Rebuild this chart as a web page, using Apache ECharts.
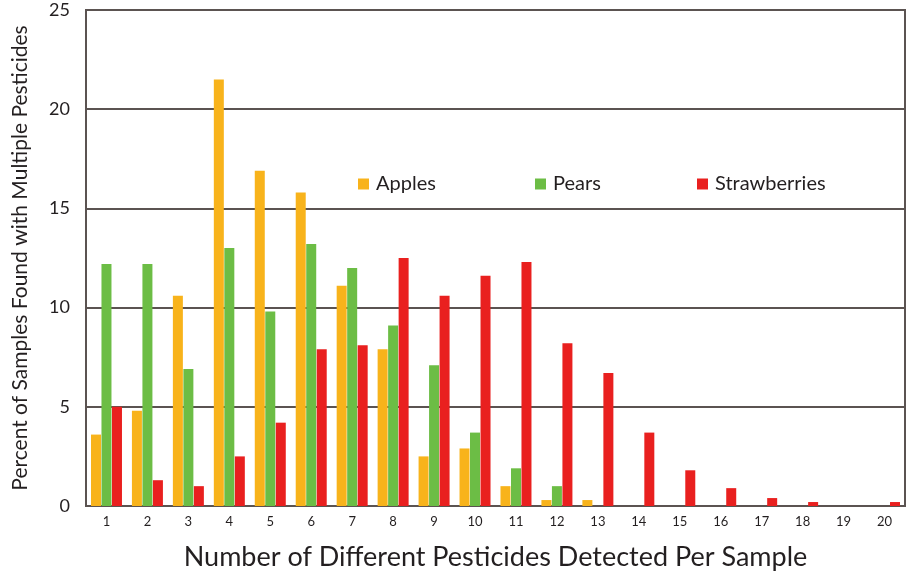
<!DOCTYPE html>
<html>
<head>
<meta charset="utf-8">
<script src="https://cdn.jsdelivr.net/npm/echarts@6/dist/echarts.min.js"></script>
<style>
  html, body { margin: 0; padding: 0; background: #fff; }
  #chart { width: 910px; height: 574px; }
</style>
</head>
<body>
<div id="chart"></div>
<script>
// 每个样本检出的农药种类数
var categories = ['1', '2', '3', '4', '5', '6', '7', '8', '9', '10',
                  '11', '12', '13', '14', '15', '16', '17', '18', '19', '20'];
var apples = [3.6, 4.8, 10.6, 21.5, 16.9, 15.8, 11.1, 7.9, 2.5, 2.9,
              1.0, 0.3, 0.3, 0, 0, 0, 0, 0, 0, 0];
var pears = [12.2, 12.2, 6.9, 13.0, 9.8, 13.2, 12.0, 9.1, 7.1, 3.7,
             1.9, 1.0, 0, 0, 0, 0, 0, 0, 0, 0];
var strawberries = [5.0, 1.3, 1.0, 2.5, 4.2, 7.9, 8.1, 12.5, 10.6, 11.6,
                    12.3, 8.2, 6.7, 3.7, 1.8, 0.9, 0.4, 0.2, 0, 0.2];
var yTicks = [0, 5, 10, 15, 20, 25];

var lineColor = '#5b5351';
var labelFont = 'Lato, "Open Sans", sans-serif';

var myChart = echarts.init(document.getElementById('chart'));

function legendAt(name, left) {
    return {
        data: [name],
        left: left,
        top: 169,
        itemWidth: 11,
        itemHeight: 11,
        itemGap: 10,
        icon: 'rect',
        textStyle: {
            fontFamily: labelFont,
            fontSize: 20,
            color: '#231f20',
            padding: [0, 0, 0, 2]
        }
    };
}

function barSeries(name, color, data) {
    return {
        name: name,
        type: 'bar',
        barWidth: 10,
        barGap: '5%',
        itemStyle: { color: color },
        data: data
    };
}

var option = {
    backgroundColor: '#ffffff',
    animation: false,
    grid: {
        left: 86,
        right: 5,
        top: 10,
        bottom: 68,
        outerBoundsMode: 'none',
        show: true,
        borderColor: lineColor,
        borderWidth: 2
    },
    legend: [
        legendAt('Apples', 353),
        legendAt('Pears', 530),
        legendAt('Strawberries', 692)
    ],
    xAxis: {
        type: 'category',
        data: categories,
        name: 'Number of Different Pesticides Detected Per Sample',
        nameLocation: 'middle',
        nameGap: 38,
        nameTextStyle: {
            fontFamily: labelFont,
            fontSize: 27,
            color: '#231f20'
        },
        axisTick: { show: false },
        axisLine: { lineStyle: { color: lineColor, width: 2 } },
        axisLabel: {
            margin: 9,
            fontFamily: labelFont,
            fontSize: 13,
            color: '#231f20'
        }
    },
    yAxis: {
        type: 'value',
        min: 0,
        max: 25,
        interval: 5,
        name: 'Percent of Samples Found with Multiple Pesticides',
        nameLocation: 'middle',
        nameGap: 55,
        nameTextStyle: {
            fontFamily: labelFont,
            fontSize: 21,
            color: '#231f20'
        },
        axisLine: { show: true, lineStyle: { color: lineColor, width: 2 } },
        axisTick: { show: false },
        axisLabel: {
            margin: 16,
            fontFamily: labelFont,
            fontSize: 18,
            color: '#231f20',
            formatter: function (val) {
                return yTicks.indexOf(val) !== -1 ? String(val) : '';
            }
        },
        splitLine: { lineStyle: { color: lineColor, width: 2 } }
    },
    series: [
        barSeries('Apples', '#f8b31b', apples),
        barSeries('Pears', '#6cbd45', pears),
        barSeries('Strawberries', '#e9201f', strawberries)
    ]
};

myChart.setOption(option);
</script>
</body>
</html>
